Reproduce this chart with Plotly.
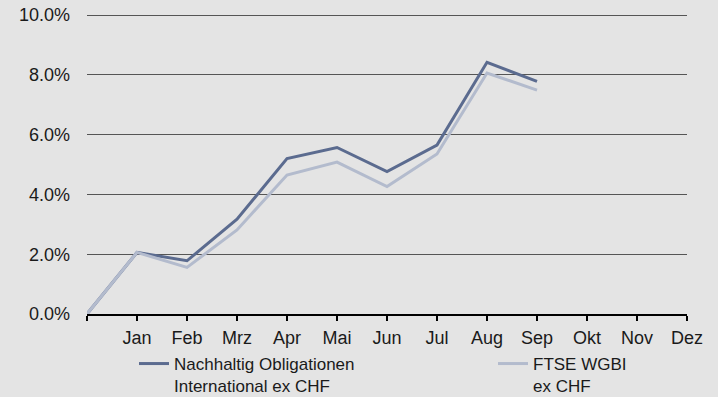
import plotly.graph_objects as go

# Monthly cumulative performance (in %), start point at 0
months = ["", "Jan", "Feb", "Mrz", "Apr", "Mai", "Jun", "Jul", "Aug", "Sep", "Okt", "Nov", "Dez"]
fund_name = "Nachhaltig Obligationen<br>International ex CHF"
bench_name = "FTSE WGBI<br>ex CHF"
fund_values = [0.0, 2.06, 1.78, 3.17, 5.20, 5.57, 4.76, 5.65, 8.42, 7.78]
bench_values = [0.0, 2.06, 1.56, 2.81, 4.65, 5.08, 4.26, 5.35, 8.06, 7.49]

y_ticks = [0, 2, 4, 6, 8, 10]

BG = "#e4e4e4"
DARK = "#5b6b8f"
LIGHT = "#b3bbcd"
FONT = "Liberation Sans, Arial, sans-serif"
FS = 18
LEGEND_FS = 17

W, H = 718, 397
M_TOP, M_BOT = 13, 83
plot_h = H - M_TOP - M_BOT
# keep the 10% gridline just inside the plot frame
y_top = 10 * plot_h / (plot_h - 2)

fig = go.Figure()
fig.add_trace(go.Scatter(
    x=list(range(len(fund_values))), y=fund_values, name=fund_name,
    mode="lines", line=dict(color=DARK, width=3), legend="legend",
))
fig.add_trace(go.Scatter(
    x=list(range(len(bench_values))), y=bench_values, name=bench_name,
    mode="lines", line=dict(color=LIGHT, width=3), legend="legend2",
))

legend_style = dict(
    orientation="h", xref="container", yref="container",
    yanchor="top", xanchor="left", valign="top",
    bgcolor="rgba(0,0,0,0)", font=dict(family=FONT, size=LEGEND_FS, color="#1a1a1a"),
    itemwidth=30, tracegroupgap=0,
)

fig.update_layout(
    width=W, height=H,
    paper_bgcolor=BG, plot_bgcolor=BG,
    margin=dict(l=87, r=31, t=M_TOP, b=M_BOT, autoexpand=False),
    font=dict(family=FONT, size=FS, color="#1a1a1a"),
    showlegend=True,
    legend=dict(x=134 / W, y=1 - 346 / H, **legend_style),
    legend2=dict(x=493 / W, y=1 - 346 / H, **legend_style),
    xaxis=dict(
        range=[0, 12], tickmode="array",
        tickvals=list(range(len(months))), ticktext=months,
        showgrid=False, zeroline=False, automargin=False,
        showline=True, linecolor="#000000", linewidth=2,
        ticks="outside", ticklen=5, tickwidth=2, tickcolor="#000000",
        ticklabelstandoff=1,
    ),
    yaxis=dict(
        range=[0, y_top], tickmode="array", tickvals=y_ticks,
        ticktext=[f"{v:.1f}%" for v in y_ticks],
        showgrid=True, gridcolor="#555555", gridwidth=1,
        zeroline=False, showline=False, ticks="", automargin=False,
        ticklabelstandoff=16,
    ),
)

fig.write_html("out.html")
